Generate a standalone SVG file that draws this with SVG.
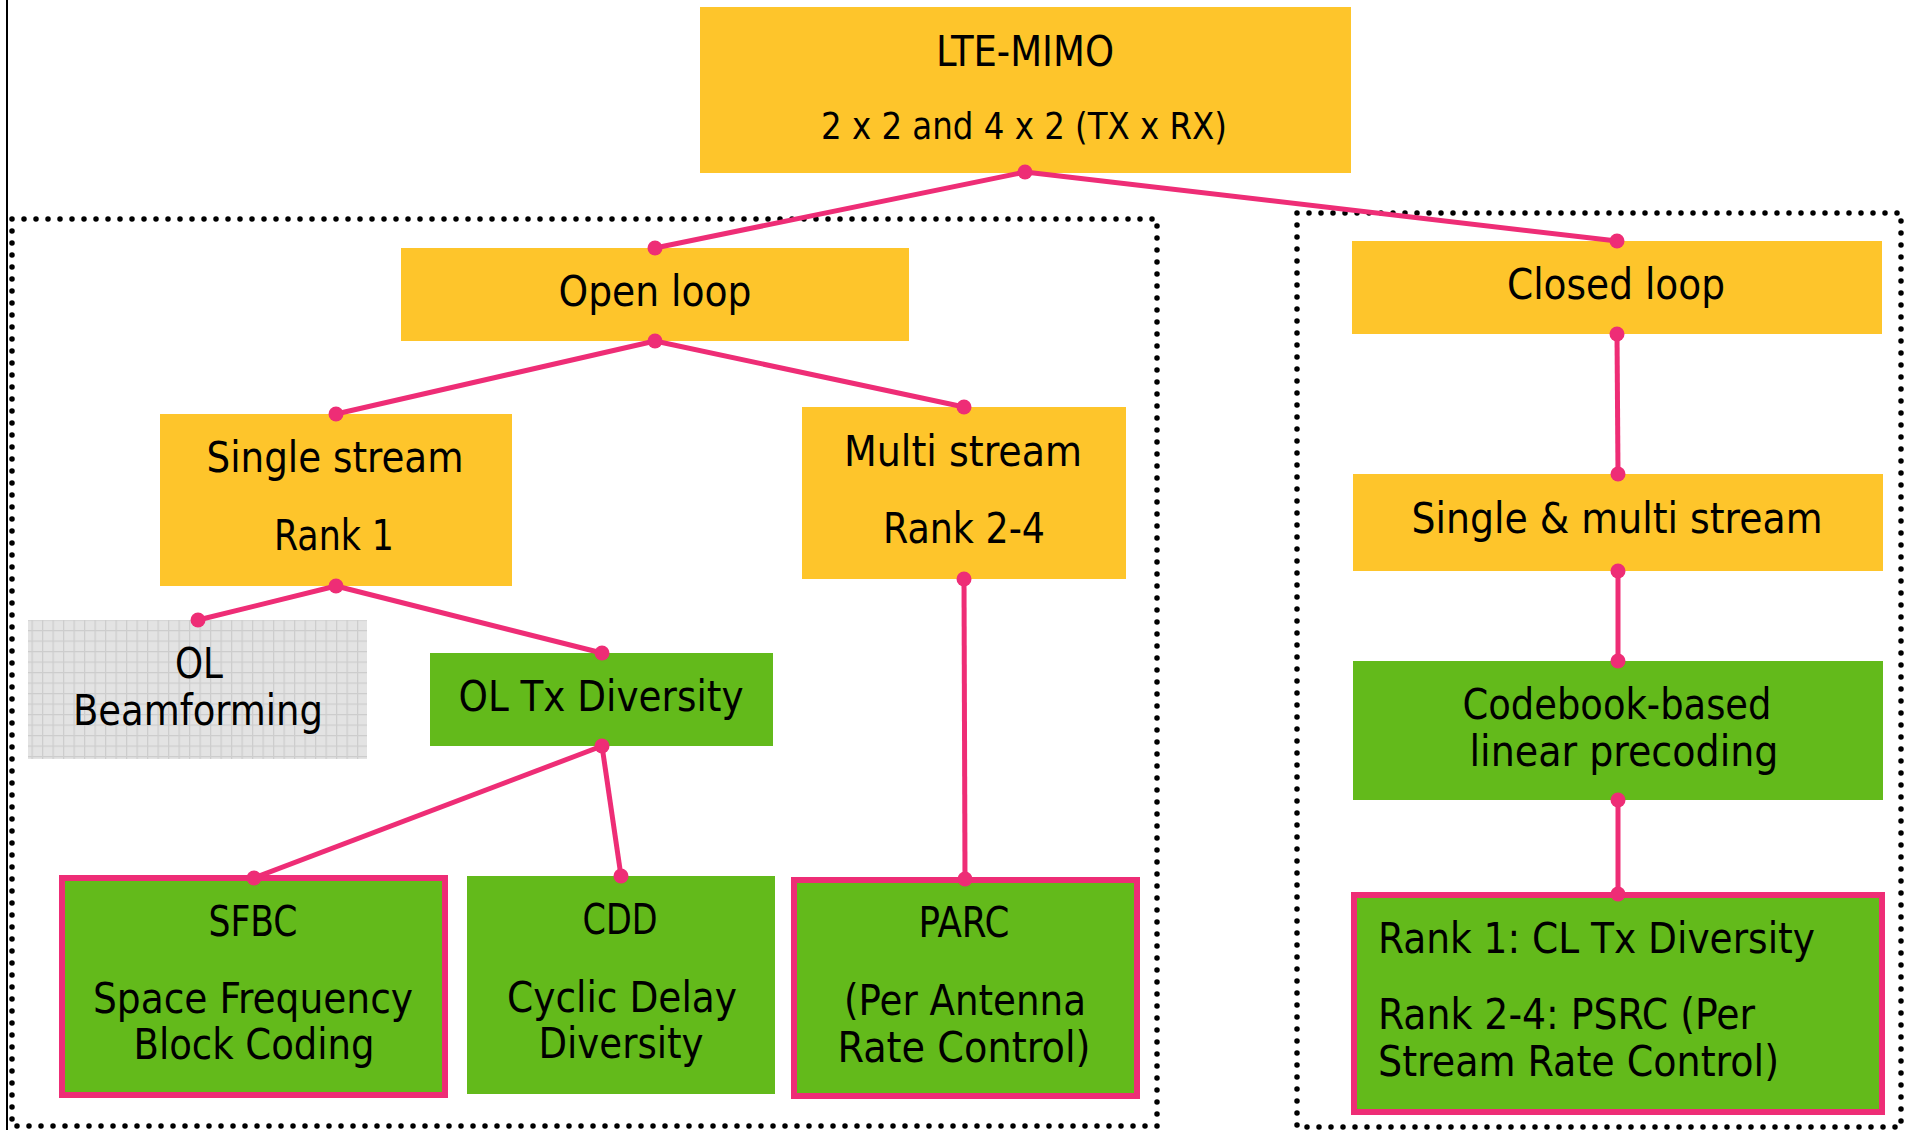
<svg xmlns="http://www.w3.org/2000/svg" width="1910" height="1130" viewBox="0 0 1910 1130">
  <defs>
    <style>
      .yel { fill: #FEC52B; }
      .grn { fill: #63BA1B; }
      .grnb { fill: #63BA1B; stroke: #EE2D76; stroke-width: 6; }
      .t { font-family: "DejaVu Sans Condensed", "DejaVu Sans", "Liberation Sans", sans-serif; font-size: 42px; fill: #000; text-anchor: middle; }
      .tl { text-anchor: start; }
      .conn line { stroke: #EE2D76; stroke-width: 5; }
      .conn circle { fill: #EE2D76; }
      .dotbox { fill: none; stroke: #000; stroke-width: 5.5; stroke-dasharray: 0 12; stroke-linecap: round; }
    </style>
    <pattern id="grid" width="10.5" height="10.5" patternUnits="userSpaceOnUse">
      <rect width="10.5" height="10.5" fill="#E3E3E3"/>
      <path d="M0 0.5 H10.5 M0.5 0 V10.5" stroke="#CDCDCD" stroke-width="1.5" fill="none"/>
    </pattern>
  </defs>
  <rect width="1910" height="1130" fill="#fff"/>

  <!-- frame line and groupings -->
  <line x1="7" y1="0" x2="7" y2="1130" stroke="#000" stroke-width="2"/>
  <rect class="dotbox" x="12" y="219" width="1145" height="907"/>
  <rect class="dotbox" x="1297" y="213" width="604" height="914"/>

  <g id="lte">
    <rect class="yel" x="700" y="7" width="651" height="166"/>
    <text class="t" x="1025" y="66" textLength="178" lengthAdjust="spacingAndGlyphs">LTE-MIMO</text>
    <text class="t" x="1024" y="139" style="font-size:38px" textLength="406" lengthAdjust="spacingAndGlyphs">2 x 2 and 4 x 2 (TX x RX)</text>
  </g>
  <g id="openloop">
    <rect class="yel" x="401" y="248" width="508" height="93"/>
    <text class="t" x="655" y="306" textLength="193" lengthAdjust="spacingAndGlyphs">Open loop</text>
  </g>
  <g id="closedloop">
    <rect class="yel" x="1352" y="241" width="530" height="93"/>
    <text class="t" x="1616" y="299" textLength="218" lengthAdjust="spacingAndGlyphs">Closed loop</text>
  </g>
  <g id="singlestream">
    <rect class="yel" x="160" y="414" width="352" height="172"/>
    <text class="t" x="335" y="472" textLength="257" lengthAdjust="spacingAndGlyphs">Single stream</text>
    <text class="t" x="334" y="550" textLength="120" lengthAdjust="spacingAndGlyphs">Rank 1</text>
  </g>
  <g id="multistream">
    <rect class="yel" x="802" y="407" width="324" height="172"/>
    <text class="t" x="963" y="466" textLength="238" lengthAdjust="spacingAndGlyphs">Multi stream</text>
    <text class="t" x="964" y="543" textLength="162" lengthAdjust="spacingAndGlyphs">Rank 2-4</text>
  </g>
  <g id="olbf">
    <rect x="28" y="620" width="339" height="139" fill="url(#grid)"/>
    <text class="t" x="199" y="678" textLength="48" lengthAdjust="spacingAndGlyphs">OL</text>
    <text class="t" x="198" y="725" textLength="250" lengthAdjust="spacingAndGlyphs">Beamforming</text>
  </g>
  <g id="oltx">
    <rect class="grn" x="430" y="653" width="343" height="93"/>
    <text class="t" x="601" y="711" textLength="285" lengthAdjust="spacingAndGlyphs">OL Tx Diversity</text>
  </g>
  <g id="sm">
    <rect class="yel" x="1353" y="474" width="530" height="97"/>
    <text class="t" x="1617" y="533" textLength="411" lengthAdjust="spacingAndGlyphs">Single &amp; multi stream</text>
  </g>
  <g id="codebook">
    <rect class="grn" x="1353" y="661" width="530" height="139"/>
    <text class="t" x="1617" y="719" textLength="309" lengthAdjust="spacingAndGlyphs">Codebook-based</text>
    <text class="t" x="1624" y="766" textLength="309" lengthAdjust="spacingAndGlyphs">linear precoding</text>
  </g>
  <g id="sfbc">
    <rect class="grnb" x="62" y="878" width="383" height="217"/>
    <text class="t" x="253" y="936" textLength="89" lengthAdjust="spacingAndGlyphs">SFBC</text>
    <text class="t" x="253" y="1013" textLength="320" lengthAdjust="spacingAndGlyphs">Space Frequency</text>
    <text class="t" x="254" y="1059" textLength="241" lengthAdjust="spacingAndGlyphs">Block Coding</text>
  </g>
  <g id="cdd">
    <rect class="grn" x="467" y="876" width="308" height="218"/>
    <text class="t" x="620" y="934" textLength="75" lengthAdjust="spacingAndGlyphs">CDD</text>
    <text class="t" x="622" y="1012" textLength="230" lengthAdjust="spacingAndGlyphs">Cyclic Delay</text>
    <text class="t" x="621" y="1058" textLength="165" lengthAdjust="spacingAndGlyphs">Diversity</text>
  </g>
  <g id="parc">
    <rect class="grnb" x="794" y="880" width="343" height="216"/>
    <text class="t" x="964" y="937" textLength="91" lengthAdjust="spacingAndGlyphs">PARC</text>
    <text class="t" x="965" y="1015" textLength="242" lengthAdjust="spacingAndGlyphs">(Per Antenna</text>
    <text class="t" x="964" y="1062" textLength="253" lengthAdjust="spacingAndGlyphs">Rate Control)</text>
  </g>
  <g id="rank">
    <rect class="grnb" x="1354" y="895" width="528" height="217"/>
    <text class="t tl" x="1378" y="953" textLength="437" lengthAdjust="spacingAndGlyphs">Rank 1: CL Tx Diversity</text>
    <text class="t tl" x="1378" y="1029" textLength="377" lengthAdjust="spacingAndGlyphs">Rank 2-4: PSRC (Per</text>
    <text class="t tl" x="1378" y="1076" textLength="401" lengthAdjust="spacingAndGlyphs">Stream Rate Control)</text>
  </g>

  <g id="connectors" class="conn">
    <line x1="1025" y1="172" x2="655" y2="248"/>
    <line x1="1025" y1="172" x2="1617" y2="241"/>
    <line x1="655" y1="341" x2="336" y2="414"/>
    <line x1="655" y1="341" x2="964" y2="407"/>
    <line x1="336" y1="586" x2="198" y2="620"/>
    <line x1="336" y1="586" x2="602" y2="653"/>
    <line x1="602" y1="746" x2="254" y2="878"/>
    <line x1="602" y1="746" x2="621" y2="876"/>
    <line x1="964" y1="579" x2="965" y2="879"/>
    <line x1="1617" y1="334" x2="1618" y2="474"/>
    <line x1="1618" y1="571" x2="1618" y2="661"/>
    <line x1="1618" y1="800" x2="1618" y2="894"/>
    <circle cx="1025" cy="172" r="7.5"/>
    <circle cx="655" cy="248" r="7.5"/>
    <circle cx="1617" cy="241" r="7.5"/>
    <circle cx="655" cy="341" r="7.5"/>
    <circle cx="336" cy="414" r="7.5"/>
    <circle cx="964" cy="407" r="7.5"/>
    <circle cx="336" cy="586" r="7.5"/>
    <circle cx="198" cy="620" r="7.5"/>
    <circle cx="602" cy="653" r="7.5"/>
    <circle cx="602" cy="746" r="7.5"/>
    <circle cx="254" cy="878" r="7.5"/>
    <circle cx="621" cy="876" r="7.5"/>
    <circle cx="964" cy="579" r="7.5"/>
    <circle cx="965" cy="879" r="7.5"/>
    <circle cx="1617" cy="334" r="7.5"/>
    <circle cx="1618" cy="474" r="7.5"/>
    <circle cx="1618" cy="571" r="7.5"/>
    <circle cx="1618" cy="661" r="7.5"/>
    <circle cx="1618" cy="800" r="7.5"/>
    <circle cx="1618" cy="894" r="7.5"/>
  </g>
</svg>
